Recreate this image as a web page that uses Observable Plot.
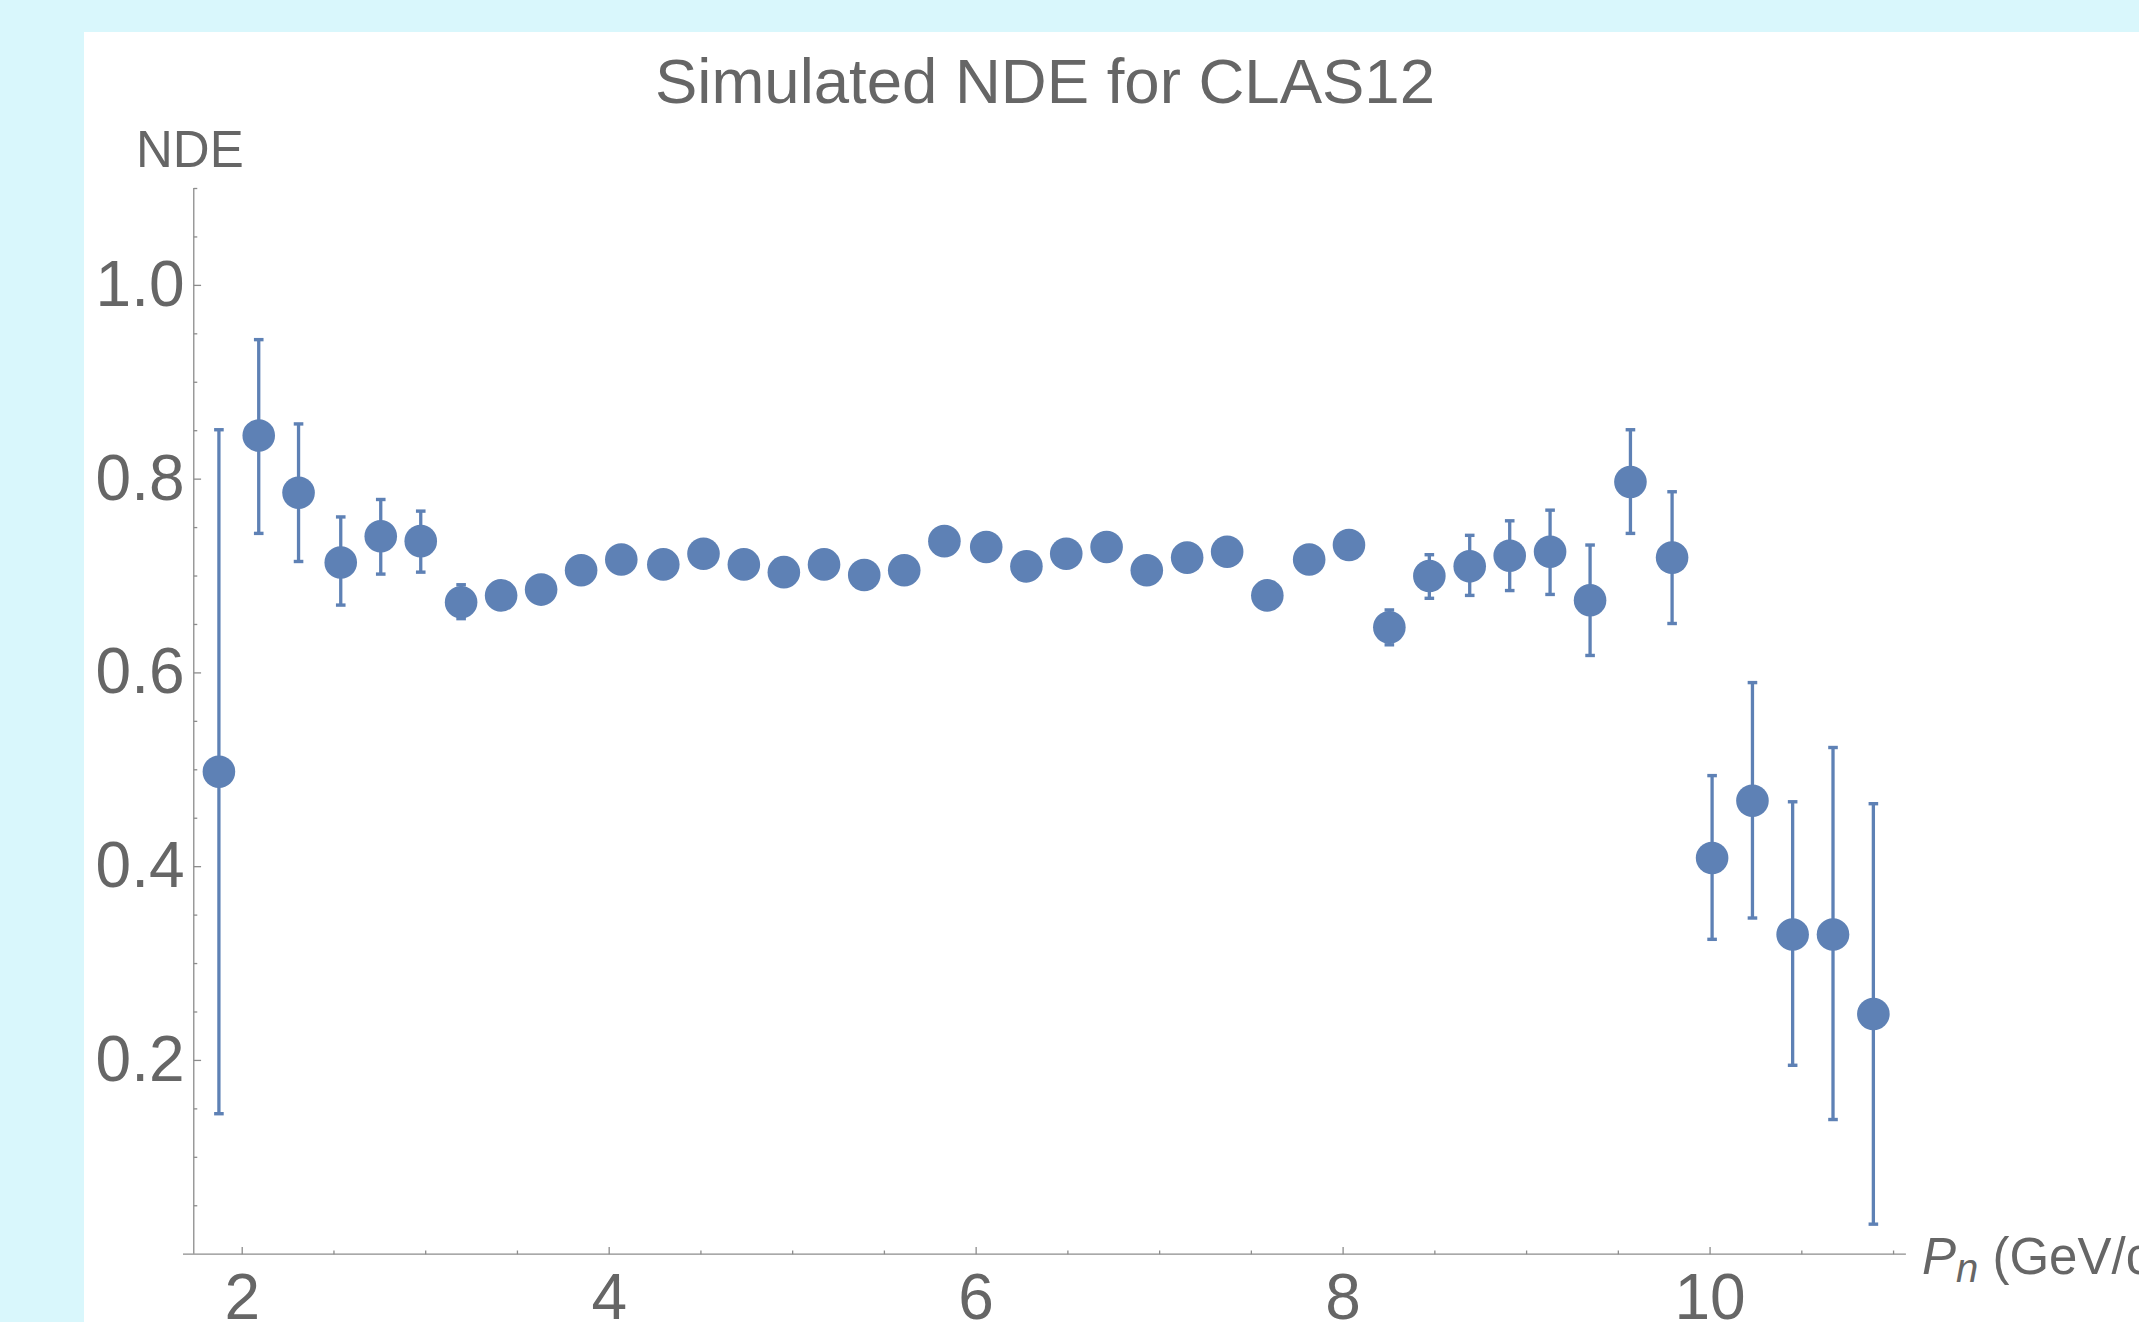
<!DOCTYPE html>
<html>
<head>
<meta charset="utf-8">
<script src="https://cdn.jsdelivr.net/npm/d3@7"></script>
<script src="https://cdn.jsdelivr.net/npm/@observablehq/plot@0.6"></script>
<style>
  html, body { margin: 0; padding: 0; }
  body {
    width: 2139px; height: 1322px; overflow: hidden; position: relative;
    background: #d9f7fc;
    font-family: "Liberation Sans", Arial, Helvetica, sans-serif;
    color: #666666;
  }
  #panel { position: absolute; left: 84px; top: 32px; right: 0; bottom: 0; background: #ffffff; }
  #chart { position: absolute; left: 0; top: 0; }
  .lbl { position: absolute; white-space: nowrap; line-height: 1; color: #666666; }
  .lbl sub { font-size: 40px; vertical-align: -8px; line-height: 0; font-style: italic; }
</style>
</head>
<body>
<div id="panel"></div>
<div id="chart"></div>
<div class="lbl" id="title" style="left:655px; top:50px; font-size:63.5px;">Simulated NDE for CLAS12</div>
<div class="lbl" id="ylabel" style="left:136px; top:124px; font-size:51px;">NDE</div>
<div class="lbl" id="xlabel" style="left:1922px; top:1231px; font-size:51px;"><i>P</i><sub>n</sub> (GeV/c)</div>
<script>
// ---- data ----
const pn = [1.873, 2.090, 2.307, 2.537, 2.755, 2.973, 3.193, 3.411, 3.629, 3.847,
            4.066, 4.295, 4.514, 4.734, 4.952, 5.171, 5.390, 5.608, 5.827, 6.055,
            6.274, 6.491, 6.711, 6.930, 7.150, 7.368, 7.587, 7.815, 8.032, 8.252,
            8.470, 8.690, 8.908, 9.128, 9.346, 9.566, 9.793, 10.011, 10.231, 10.450,
            10.670, 10.890];
const nde = [0.498, 0.845, 0.786, 0.714, 0.741, 0.736, 0.673, 0.680, 0.686, 0.706,
             0.717, 0.712, 0.723, 0.712, 0.704, 0.712, 0.701, 0.706, 0.736, 0.730,
             0.710, 0.723, 0.730, 0.706, 0.719, 0.725, 0.680, 0.717, 0.732, 0.647,
             0.700, 0.710, 0.721, 0.725, 0.675, 0.797, 0.719, 0.409, 0.468, 0.330,
             0.330, 0.248];
const ndeLow = [0.145, 0.744, 0.715, 0.670, 0.702, 0.704, 0.656, 0.670, 0.676, 0.696,
                0.707, 0.702, 0.713, 0.702, 0.694, 0.702, 0.691, 0.696, 0.726, 0.720,
                0.700, 0.713, 0.720, 0.696, 0.709, 0.715, 0.670, 0.707, 0.722, 0.629,
                0.677, 0.680, 0.685, 0.681, 0.618, 0.744, 0.651, 0.325, 0.347, 0.195,
                0.139, 0.031];
const ndeHigh = [0.851, 0.944, 0.857, 0.761, 0.779, 0.767, 0.691, 0.690, 0.696, 0.716,
                 0.727, 0.722, 0.733, 0.722, 0.714, 0.722, 0.711, 0.716, 0.746, 0.740,
                 0.720, 0.733, 0.740, 0.716, 0.729, 0.735, 0.690, 0.727, 0.742, 0.665,
                 0.722, 0.742, 0.757, 0.768, 0.732, 0.851, 0.787, 0.494, 0.590, 0.467,
                 0.523, 0.465];

const xTickLabels = [2, 4, 6, 8, 10];
const xMinorTicks = [2.5, 3, 3.5, 4.5, 5, 5.5, 6.5, 7, 7.5, 8.5, 9, 9.5, 10.5, 11];
const yTickLabels = [0.2, 0.4, 0.6, 0.8, 1.0];
const yMinorTicks = [0.05, 0.1, 0.15, 0.25, 0.3, 0.35, 0.45, 0.5, 0.55, 0.65, 0.7, 0.75,
                     0.85, 0.9, 0.95, 1.05, 1.1];
const xDomain = [1.68, 11.07];
const yDomain = [0, 1.1];
const yAxisAt = 1.736; // x position where the vertical axis is drawn

// ---- styles ----
const blue = "#5E81B5";
const axisGray = "#8c8c8c";

const points = pn.map((x, i) => ({x, y: nde[i], lo: ndeLow[i], hi: ndeHigh[i]}));

const capSymbol = {draw(ctx) { ctx.moveTo(-4.8, -1.7); ctx.lineTo(4.8, -1.7); ctx.lineTo(4.8, 1.7); ctx.lineTo(-4.8, 1.7); ctx.closePath(); }};
const tickRight = (len) => ({draw(ctx) { ctx.moveTo(0, 0); ctx.lineTo(len, 0); }});
const tickUp = (len) => ({draw(ctx) { ctx.moveTo(0, 0); ctx.lineTo(0, -len); }});

const chart = Plot.plot({
  width: 2139,
  height: 1322,
  marginLeft: 183,
  marginRight: 233.1,
  marginTop: 188,
  marginBottom: 68.3,
  x: {domain: xDomain},
  y: {domain: yDomain},
  style: {background: "transparent", color: "#666666", fontFamily: "'Liberation Sans', Arial, Helvetica, sans-serif", overflow: "visible"},
  marks: [
    // axes lines
    Plot.ruleY([0], {stroke: axisGray, strokeWidth: 1.3}),
    Plot.ruleX([yAxisAt], {stroke: axisGray, strokeWidth: 1.3}),
    // ticks (pointing into the plot)
    Plot.dot(xTickLabels, {x: d => d, y: 0, symbol: tickUp(7.3), fill: "none", stroke: axisGray, strokeWidth: 1.3}),
    Plot.dot(xMinorTicks, {x: d => d, y: 0, symbol: tickUp(3.7), fill: "none", stroke: axisGray, strokeWidth: 1.3}),
    Plot.dot(yTickLabels, {x: yAxisAt, y: d => d, symbol: tickRight(7.3), fill: "none", stroke: axisGray, strokeWidth: 1.3}),
    Plot.dot(yMinorTicks, {x: yAxisAt, y: d => d, symbol: tickRight(3.5), fill: "none", stroke: axisGray, strokeWidth: 1.3}),
    // tick labels
    Plot.axisX({ticks: xTickLabels, tickSize: 0, tickPadding: 19, fontSize: 64, tickFormat: d => String(d), label: null}),
    Plot.axisY({ticks: yTickLabels, tickSize: 0, tickPadding: -1, fontSize: 64, tickFormat: d => d.toFixed(1), label: null}),
    // error bars
    Plot.ruleX(points, {x: "x", y1: "lo", y2: "hi", stroke: blue, strokeWidth: 3.3}),
    Plot.dot(points, {x: "x", y: "lo", symbol: capSymbol, fill: blue, stroke: "none"}),
    Plot.dot(points, {x: "x", y: "hi", symbol: capSymbol, fill: blue, stroke: "none"}),
    // points
    Plot.dot(points, {x: "x", y: "y", r: 16.3, fill: blue, stroke: "none"})
  ]
});
document.getElementById("chart").appendChild(chart);
</script>
</body>
</html>
